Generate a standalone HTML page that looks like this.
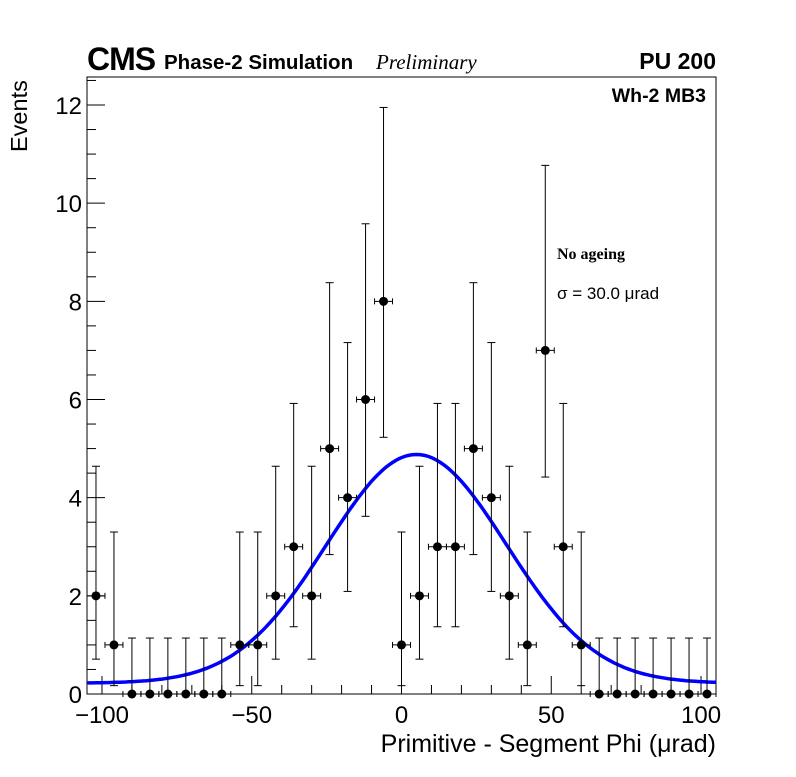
<!DOCTYPE html>
<html><head><meta charset="utf-8"><style>
body{margin:0;background:#fff;}
svg text{font-family:"Liberation Sans",sans-serif;}
</style></head><body>
<svg id="c" width="796" height="772" xmlns="http://www.w3.org/2000/svg">
<rect width="796" height="772" fill="#fff"/>
<g id="axes"></g>
<g id="marks"></g>
<text x="87" y="70" font-size="32" font-weight="bold" letter-spacing="-1">CMS</text>
<text x="164" y="69" font-size="20.5" font-weight="bold">Phase-2 Simulation</text>
<text x="376" y="69" font-size="21" font-style="italic" style="font-family:'Liberation Serif',serif">Preliminary</text>
<text x="716" y="69" font-size="23" font-weight="bold" text-anchor="end">PU 200</text>
<text x="706" y="102" font-size="19.5" font-weight="bold" text-anchor="end">Wh-2 MB3</text>
<text x="557" y="259" font-size="16" font-weight="bold" style="font-family:'Liberation Serif',serif">No ageing</text>
<text x="557" y="299" font-size="17">σ = 30.0  μrad</text>
<text x="716" y="752" font-size="25" text-anchor="end">Primitive - Segment Phi (μrad)</text>
<text transform="translate(27,152) rotate(-90)" font-size="23.5">Events</text>
</svg>
<script>
const binCenters=[-102,-96,-90,-84,-78,-72,-66,-60,-54,-48,-42,-36,-30,-24,-18,-12,-6,0,6,12,18,24,30,36,42,48,54,60,66,72,78,84,90,96,102];
const counts=[2,1,0,0,0,0,0,0,1,1,2,3,2,5,4,6,8,1,2,3,3,5,4,2,1,7,3,1,0,0,0,0,0,0,0];
const yTicks=[0,2,4,6,8,10,12];
const xTicks=[-100,-50,0,50,100];
const xTickLabels=["\u2212100","\u221250","0","50","100"];
const fitAmp=4.66, fitMean=5, fitSigma=30, fitBase=0.22;
const poisLo=[0,0.17,0.71,1.37,2.09,2.84,3.62,4.42,5.23];
const poisHi=[1.14,3.30,4.64,5.92,7.16,8.38,9.58,10.77,11.95];
const L=87,R=716,T=77,B=694;
const X=v=>L+(v+105)*(R-L)/210;
const Y=v=>B-v*(B-105)/12;
const NS="http://www.w3.org/2000/svg";
function mk(p,t,a){const e=document.createElementNS(NS,t);for(const k in a)e.setAttribute(k,a[k]);p.appendChild(e);return e;}
const ax=document.getElementById('axes'), mg=document.getElementById('marks');
const fr=mk(ax,'rect',{x:L,y:T,width:R-L,height:B-T,fill:'none',stroke:'#000','stroke-width':1});


for(let v=0;v<=12.5;v+=0.5){const maj=Math.abs(v%2)<1e-9;mk(ax,'line',{x1:L,x2:L+(maj?18:9),y1:Y(v),y2:Y(v),stroke:'#000'});}
yTicks.forEach(v=>{const t=mk(ax,'text',{x:L-5,y:Y(v)+9,'font-size':24,'text-anchor':'end'});t.textContent=v;

});
for(let v=-100;v<=100;v+=10){const maj=v%50===0;mk(ax,'line',{x1:X(v),x2:X(v),y1:B,y2:B-(maj?18:9),stroke:'#000'});}
xTicks.forEach((v,i)=>{const t=mk(ax,'text',{x:X(v),y:B+29,'font-size':24,'text-anchor':'middle'});t.textContent=xTickLabels[i];

});
let d='';for(let v=-105;v<=105;v+=1){const f=fitBase+fitAmp*Math.exp(-Math.pow(v-fitMean,2)/(2*fitSigma*fitSigma));d+=(d?'L':'M')+X(v).toFixed(1)+','+Y(f).toFixed(1);}
const fp=mk(mg,'path',{d:d,fill:'none',stroke:'#0000ff','stroke-width':3.5});


binCenters.forEach((c,i)=>{const n=counts[i];const g=mk(mg,'g',{});


const cx=X(c),cy=Y(n);
mk(g,'line',{x1:cx,x2:cx,y1:Y(poisLo[n]),y2:Y(poisHi[n]),stroke:'#000'});
mk(g,'line',{x1:cx-4,x2:cx+4,y1:Y(poisHi[n]),y2:Y(poisHi[n]),stroke:'#000'});
if(n>0)mk(g,'line',{x1:cx-4,x2:cx+4,y1:Y(poisLo[n]),y2:Y(poisLo[n]),stroke:'#000'});
mk(g,'line',{x1:X(c-3),x2:X(c+3),y1:cy,y2:cy,stroke:'#000'});
mk(g,'line',{x1:X(c-3),x2:X(c-3),y1:cy-3,y2:cy+3,stroke:'#000'});
mk(g,'line',{x1:X(c+3),x2:X(c+3),y1:cy-3,y2:cy+3,stroke:'#000'});
mk(g,'circle',{cx:cx,cy:cy,r:4.5,fill:'#000'});});
</script>
</body></html>
